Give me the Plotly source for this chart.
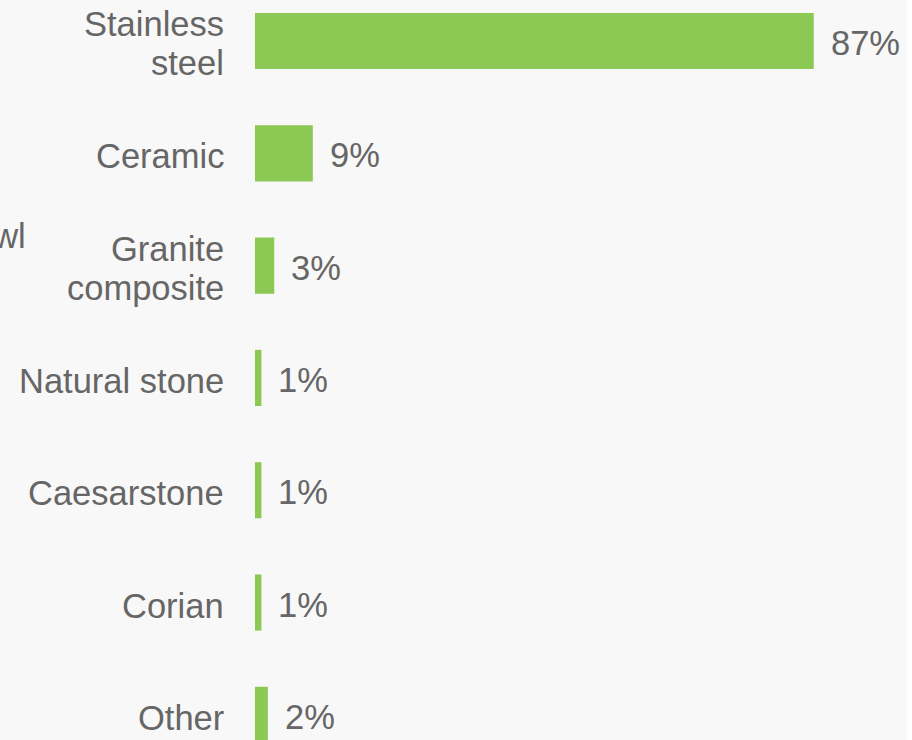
import plotly.graph_objects as go

categories = ["Stainless<br>steel", "Ceramic", "Granite<br>composite", "Natural stone",
              "Caesarstone", "Corian", "Other"]
values = [87, 9, 3, 1, 1, 1, 2]
value_labels = ["87%", "9%", "3%", "1%", "1%", "1%", "2%"]

GRAY = "#666666"
GREEN = "#8BC954"
FONT = "Liberation Sans, Arial, sans-serif"
FS = 34.5
LINE = 39

fig = go.Figure(go.Bar(
    x=values, y=categories, orientation="h",
    marker=dict(color=GREEN, line=dict(width=0)),
    width=0.5, hoverinfo="skip",
))

for v, lab, c in zip(values, value_labels, categories):
    fig.add_annotation(x=v, y=c, text=lab, showarrow=False, xanchor="left",
                       xshift=15, yshift=-2, font=dict(size=FS, color=GRAY, family=FONT))

# category labels (one annotation per line for tighter line spacing)
for c in categories:
    lines = c.split("<br>")
    n = len(lines)
    for k, ln in enumerate(lines):
        fig.add_annotation(x=0, y=c, text=ln, showarrow=False, xanchor="right",
                           yanchor="middle", xshift=-29,
                           yshift=((n - 1) / 2 - k) * LINE - 3,
                           font=dict(size=FS, color=GRAY, family=FONT))

# partially visible axis title at left edge
fig.add_annotation(xref="paper", yref="paper", x=(28 - 255) / 657, y=1 - 236 / 740,
                   text="Bowl", showarrow=False, xanchor="right", yanchor="middle",
                   font=dict(size=FS, color=GRAY, family=FONT))

fig.update_layout(
    width=912, height=740,
    margin=dict(l=255, r=0, t=0, b=0),
    paper_bgcolor="#F8F8F8", plot_bgcolor="#F8F8F8",
    showlegend=False,
    font=dict(family=FONT, color=GRAY, size=FS),
    xaxis=dict(range=[0, 102.3], visible=False, fixedrange=True),
    yaxis=dict(categoryorder="array", categoryarray=categories,
               range=[6.224, -0.365], showgrid=False, zeroline=False,
               showline=False, ticks="", showticklabels=False, fixedrange=True),
    shapes=[dict(type="rect", xref="paper", yref="paper", x0=(907 - 255) / 657, x1=1.01,
                 y0=-0.01, y1=1.01, fillcolor="white", line=dict(width=0), layer="above")],
)

fig.write_html("out.html", config={"displayModeBar": False},
               post_script="document.body.style.margin='0';document.body.style.overflow='hidden';")
